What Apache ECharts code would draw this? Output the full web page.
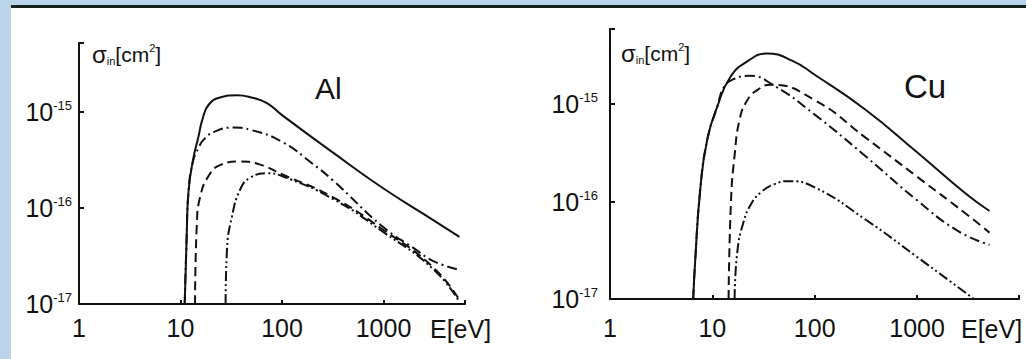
<!DOCTYPE html>
<html>
<head>
<meta charset="utf-8">
<script src="https://cdn.jsdelivr.net/npm/echarts@6/dist/echarts.min.js"></script>
<style>
  html, body { margin: 0; padding: 0; width: 1026px; height: 359px; overflow: hidden; background: #b8d3ea; }
  #panel { position: absolute; left: 11px; top: 5px; width: 1015px; height: 354px; background: #ffffff; border-top: 3px solid #14241d; box-sizing: border-box; }
  #chart { position: absolute; left: 0; top: 0; width: 1026px; height: 359px; }
</style>
</head>
<body>
<div id="panel"></div>
<div id="chart"></div>
<script>
// ---------- data (energies in eV, cross sections in cm^2) ----------
// Al panel
const alSolidE = [11, 11.5, 12, 13.3, 15, 16.5, 19, 24.5, 36, 50, 71, 100, 316, 1000, 3090, 5600];
const alSolidS = [1e-17, 5e-17, 1.5e-16, 3.2e-16, 5.5e-16, 8.5e-16, 1.2e-15, 1.42e-15, 1.5e-15, 1.42e-15, 1.24e-15, 9.3e-16, 3.8e-16, 1.6e-16, 7.5e-17, 5e-17];
const alDashDotE = [11, 11.5, 12, 13.3, 15, 17, 22, 33, 50, 100, 200, 316, 1000, 2000, 3100, 5300];
const alDashDotS = [1e-17, 5e-17, 1.5e-16, 3.1e-16, 4.2e-16, 5.2e-16, 6.3e-16, 6.9e-16, 6.5e-16, 4.9e-16, 2.9e-16, 1.95e-16, 6.3e-17, 3.8e-17, 2.8e-17, 2.3e-17];
const alDashedE = [13.9, 14.5, 15.6, 18.6, 24.5, 38.5, 60, 100, 316, 1000, 3100, 5600];
const alDashedS = [1e-17, 7e-17, 1.3e-16, 2.1e-16, 2.8e-16, 3.05e-16, 2.85e-16, 2.25e-16, 1.3e-16, 5.9e-17, 2.4e-17, 1.1e-17];
const alDashDotDotE = [27.8, 28.7, 32, 38.6, 48, 71, 100, 316, 1000, 3100, 5600];
const alDashDotDotS = [1e-17, 3.7e-17, 8e-17, 1.55e-16, 2.05e-16, 2.3e-16, 2.15e-16, 1.25e-16, 5.6e-17, 2.3e-17, 1.05e-17];
// Cu panel
const cuSolidE = [6.5, 6.8, 7.6, 8.9, 11.2, 15, 22, 34, 60, 100, 316, 1000, 3000, 5100];
const cuSolidS = [1e-17, 2.5e-17, 1.3e-16, 4.3e-16, 9.5e-16, 1.9e-15, 2.75e-15, 3.3e-15, 2.8e-15, 2.0e-15, 8.7e-16, 3.2e-16, 1.2e-16, 8e-17];
const cuDashDotE = [6.5, 6.8, 7.6, 8.9, 11.2, 13, 16, 23, 40, 100, 316, 1000, 2500, 5100];
const cuDashDotS = [1e-17, 2.5e-17, 1.3e-16, 4.3e-16, 9.5e-16, 1.5e-15, 1.8e-15, 1.95e-15, 1.55e-15, 7.8e-16, 2.9e-16, 1.03e-16, 5e-17, 3.6e-17];
const cuDashedE = [14.4, 15.2, 16.5, 18.5, 22, 27.6, 37, 100, 316, 1000, 3000, 5100];
const cuDashedS = [1e-17, 1e-16, 3e-16, 7e-16, 1.1e-15, 1.4e-15, 1.58e-15, 1.1e-15, 4.5e-16, 1.8e-16, 7.5e-17, 4.8e-17];
const cuDashDotDotE = [16.5, 17.5, 20, 24, 30, 40, 55, 100, 316, 1000, 3600];
const cuDashDotDotS = [1e-17, 3e-17, 6e-17, 9.5e-17, 1.25e-16, 1.5e-16, 1.62e-16, 1.4e-16, 6.5e-17, 2.7e-17, 1e-17];

const panelTitles = ['Al', 'Cu'];
const xAxisName = 'E[eV]';
const yAxisNameParts = ['σ', 'in', '[cm', '2', ']'];

// ---------- chart ----------
const FONT = "'Liberation Sans', Arial, Helvetica, sans-serif";
const INK = '#111111';
const chart = echarts.init(document.getElementById('chart'), null, { renderer: 'svg' });

function pairs(E, S) { return E.map((e, i) => [e, S[i]]); }
function isPow10(v) { const l = Math.log10(v); return Math.abs(l - Math.round(l)) < 1e-6; }

const dashStyles = {
  solid: 'solid',
  dashed: [9, 5],
  dashDot: [10, 4, 2, 4],
  dashDotDot: [10, 3, 2, 3, 2, 3]
};

function xAxisFor(gi, max, nameGap, labelMargin) {
  return {
    type: 'log', logBase: 10, gridIndex: gi, min: 1, max: max,
    name: xAxisName, nameLocation: 'end', nameGap: nameGap,
    nameTextStyle: { fontFamily: FONT, fontSize: 25, color: INK, align: 'left', verticalAlign: 'top', padding: [labelMargin + 1, 0, 0, 0] },
    axisLine: { lineStyle: { color: INK, width: 2 } },
    axisTick: { show: true, inside: true, length: 4, lineStyle: { color: INK, width: 2 } },
    splitLine: { show: false }, minorTick: { show: false },
    axisLabel: {
      margin: labelMargin, fontFamily: FONT, fontSize: 25, color: INK,
      formatter: v => (isPow10(v) && v < 5000) ? String(Math.round(v)) : ''
    }
  };
}

function yAxisFor(gi, max, nameGap, namePadLeft, labelMargin) {
  return {
    type: 'log', logBase: 10, gridIndex: gi, min: 1e-17, max: max,
    name: '{s|' + yAxisNameParts[0] + '}{sub|' + yAxisNameParts[1] + '}{t|' + yAxisNameParts[2] + '}{sup|' + yAxisNameParts[3] + '}{t|' + yAxisNameParts[4] + '}',
    nameLocation: 'end', nameGap: nameGap,
    nameTextStyle: {
      align: 'left', verticalAlign: 'middle', padding: [0, 0, 0, namePadLeft],
      rich: {
        s: { fontFamily: FONT, fontSize: 24, color: INK, lineHeight: 24 },
        sub: { fontFamily: FONT, fontSize: 11, color: INK, verticalAlign: 'bottom', lineHeight: 24, padding: [8, 0, 0, 0] },
        t: { fontFamily: FONT, fontSize: 21, color: INK, lineHeight: 24 },
        sup: { fontFamily: FONT, fontSize: 11, color: INK, verticalAlign: 'top', lineHeight: 12 }
      }
    },
    axisLine: { lineStyle: { color: INK, width: 2 } },
    axisTick: { show: true, inside: true, length: 5, lineStyle: { color: INK, width: 2 } },
    splitLine: { show: false }, minorTick: { show: false },
    axisLabel: {
      margin: labelMargin,
      formatter: v => isPow10(v) ? '{b|10}{e|' + Math.round(Math.log10(v)) + '}' : '',
      rich: {
        b: { fontFamily: FONT, fontSize: 25, color: INK, lineHeight: 26 },
        e: { fontFamily: FONT, fontSize: 13, color: INK, verticalAlign: 'top', lineHeight: 14 }
      }
    }
  };
}

function line(gi, E, S, type) {
  return {
    type: 'line', xAxisIndex: gi, yAxisIndex: gi,
    data: pairs(E, S), showSymbol: false, symbol: 'none',
    smooth: 0.5, clip: true,
    lineStyle: { color: INK, width: 2, type: dashStyles[type] },
    silent: true, animation: false
  };
}

const option = {
  animation: false,
  backgroundColor: 'transparent',
  title: [
    { text: panelTitles[0], left: 315, top: 73, padding: 0, textStyle: { fontFamily: FONT, fontSize: 30, fontWeight: 'normal', color: INK } },
    { text: panelTitles[1], left: 904, top: 70, padding: 0, textStyle: { fontFamily: FONT, fontSize: 33, fontWeight: 'normal', color: INK } }
  ],
  grid: [
    { left: 79, top: 43, width: 386, height: 261, containLabel: false },
    { left: 610, top: 29, width: 409, height: 270, containLabel: false }
  ],
  xAxis: [
    xAxisFor(0, 6350, -35, 11),
    xAxisFor(1, 9900, -58, 16)
  ],
  yAxis: [
    yAxisFor(0, 5.25e-15, -11, 13, 7),
    yAxisFor(1, 5.9e-15, -24, 11, 12)
  ],
  series: [
    line(0, alDashDotDotE, alDashDotDotS, 'dashDotDot'),
    line(0, alDashedE, alDashedS, 'dashed'),
    line(0, alDashDotE, alDashDotS, 'dashDot'),
    line(0, alSolidE, alSolidS, 'solid'),
    line(1, cuDashDotDotE, cuDashDotDotS, 'dashDotDot'),
    line(1, cuDashedE, cuDashedS, 'dashed'),
    line(1, cuDashDotE, cuDashDotS, 'dashDot'),
    line(1, cuSolidE, cuSolidS, 'solid')
  ]
};
chart.setOption(option);
</script>
</body>
</html>
